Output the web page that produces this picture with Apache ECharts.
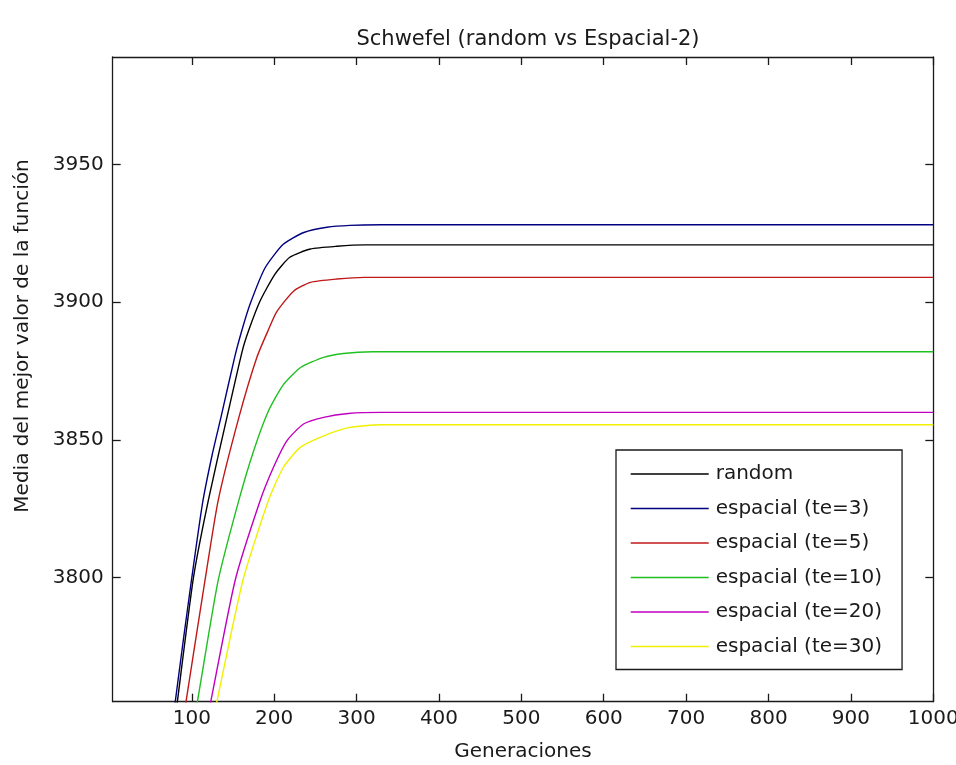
<!DOCTYPE html>
<html>
<head>
<meta charset="utf-8">
<script src="https://cdn.jsdelivr.net/npm/echarts@6/dist/echarts.min.js"></script>
<style>
  html, body { margin: 0; padding: 0; background: #fff; }
  #chart { width: 956px; height: 765px; }
</style>
</head>
<body>
<div id="chart"></div>
<script>
// Mean best value of the Schwefel function per generation: [generation, value]
const randomCurve = [[79,3746],[82.5,3755],[102,3800],[120,3828],[142.5,3858],[161,3882],[169,3889.7],[183,3900.5],[201,3910.2],[219,3916.3],[244,3919.3],[276,3920.3],[310,3920.8],[1000,3920.8]];
const te3Curve    = [[76,3746],[90,3778],[100,3800],[113,3827],[125,3845],[136,3859],[152,3880],[161,3890],[171,3899.5],[189,3912.5],[211,3921],[236,3925.3],[264,3927.2],[292,3927.9],[330,3928.1],[1000,3928.1]];
const te5Curve    = [[89,3746],[93,3755],[116,3799],[132,3828],[157,3858],[179,3880],[193,3890],[203,3896.5],[223.5,3904],[244,3907.2],[276,3908.4],[310,3909],[1000,3909]];
const te10Curve   = [[101,3746],[106.8,3755],[132,3799],[157,3828],[175,3846],[193,3860.5],[211,3870],[232,3876.3],[260,3880],[284,3881.4],[320,3882],[1000,3882]];
const te20Curve   = [[117,3746],[123,3755],[152.6,3799],[183,3828],[199,3840],[215.4,3849.7],[235.6,3855.8],[260,3858.2],[290,3859.6],[330,3860],[1000,3860]];
const te30Curve   = [[124,3746],[130.4,3755],[162,3799],[193,3828],[211,3840],[231.6,3847.3],[260,3851.5],[290,3854.5],[330,3855.5],[1000,3855.5]];

const seriesNames  = ['random', 'espacial (te=3)', 'espacial (te=5)', 'espacial (te=10)', 'espacial (te=20)', 'espacial (te=30)'];
const seriesData   = [randomCurve, te3Curve, te5Curve, te10Curve, te20Curve, te30Curve];
const seriesColors = ['#000000', '#000080', '#c01818', '#20c020', '#c000c0', '#f0f000'];

const xTicks = [100, 200, 300, 400, 500, 600, 700, 800, 900, 1000];
const yTicks = [3800, 3850, 3900, 3950];
const xRange = [4, 1000];
const yRange = [3755, 3989];

const FONT = '"DejaVu Sans", sans-serif';
const INK = '#1a1a1a';

const chart = echarts.init(document.getElementById('chart'), null, { renderer: 'canvas' });

function frameAxis(kind, position, showLabels, range, ticks) {
  return {
    type: 'value',
    position: position,
    min: range[0],
    max: range[1],
    scale: true,
    splitLine: { show: false },
    axisLine: { show: true, onZero: false, lineStyle: { color: INK, width: 1.3 } },
    axisTick: { show: true, inside: true, length: 8, customValues: ticks, lineStyle: { color: INK, width: 1.3 } },
    axisLabel: {
      show: showLabels,
      customValues: ticks,
      formatter: v => String(v),
      margin: kind === 'x' ? 7 : 9,
      color: INK,
      fontFamily: FONT,
      fontSize: 20
    }
  };
}

const xBottom = frameAxis('x', 'bottom', true, xRange, xTicks);
xBottom.name = 'Generaciones';
xBottom.nameLocation = 'middle';
xBottom.nameGap = 40;
xBottom.nameTextStyle = { color: INK, fontFamily: FONT, fontSize: 20 };

const option = {
  backgroundColor: '#ffffff',
  animation: false,
  title: {
    text: 'Schwefel (random vs Espacial-2)',
    left: 523,
    textAlign: 'center',
    top: 24,
    textStyle: { color: INK, fontFamily: FONT, fontSize: 21, fontWeight: 'normal' }
  },
  // vertical axis title
  graphic: [{
    type: 'text',
    x: 23,
    y: 336,
    rotation: Math.PI / 2,
    style: {
      text: 'Media del mejor valor de la función',
      fill: INK,
      font: '20px "DejaVu Sans", sans-serif',
      align: 'center',
      verticalAlign: 'middle'
    }
  }],
  grid: { left: 112.7, right: 22.7, top: 57, bottom: 63.3, containLabel: false, outerBoundsMode: 'none' },
  xAxis: [xBottom, frameAxis('x', 'top', false, xRange, xTicks)],
  yAxis: [frameAxis('y', 'left', true, yRange, yTicks), frameAxis('y', 'right', false, yRange, yTicks)],
  legend: {
    orient: 'vertical',
    left: 616,
    top: 450,
    padding: [14, 20, 13, 14],
    itemWidth: 78,
    itemHeight: 20,
    itemGap: 14.5,
    backgroundColor: '#ffffff',
    borderColor: INK,
    borderWidth: 1.3,
    selectedMode: false,
    itemStyle: { opacity: 0 },
    lineStyle: { width: 1.4, opacity: 1 },
    textStyle: { color: INK, fontFamily: FONT, fontSize: 20, lineHeight: 20, padding: [0, 0, 0, 2] },
    data: seriesNames
  },
  series: seriesNames.map((name, i) => ({
    name: name,
    type: 'line',
    xAxisIndex: 0,
    yAxisIndex: 0,
    data: seriesData[i],
    symbol: 'none',
    smooth: 0.2,
    clip: true,
    color: seriesColors[i],
    lineStyle: { color: seriesColors[i], width: 1.4 },
    z: 10 - i
  }))
};

chart.setOption(option);
</script>
</body>
</html>
